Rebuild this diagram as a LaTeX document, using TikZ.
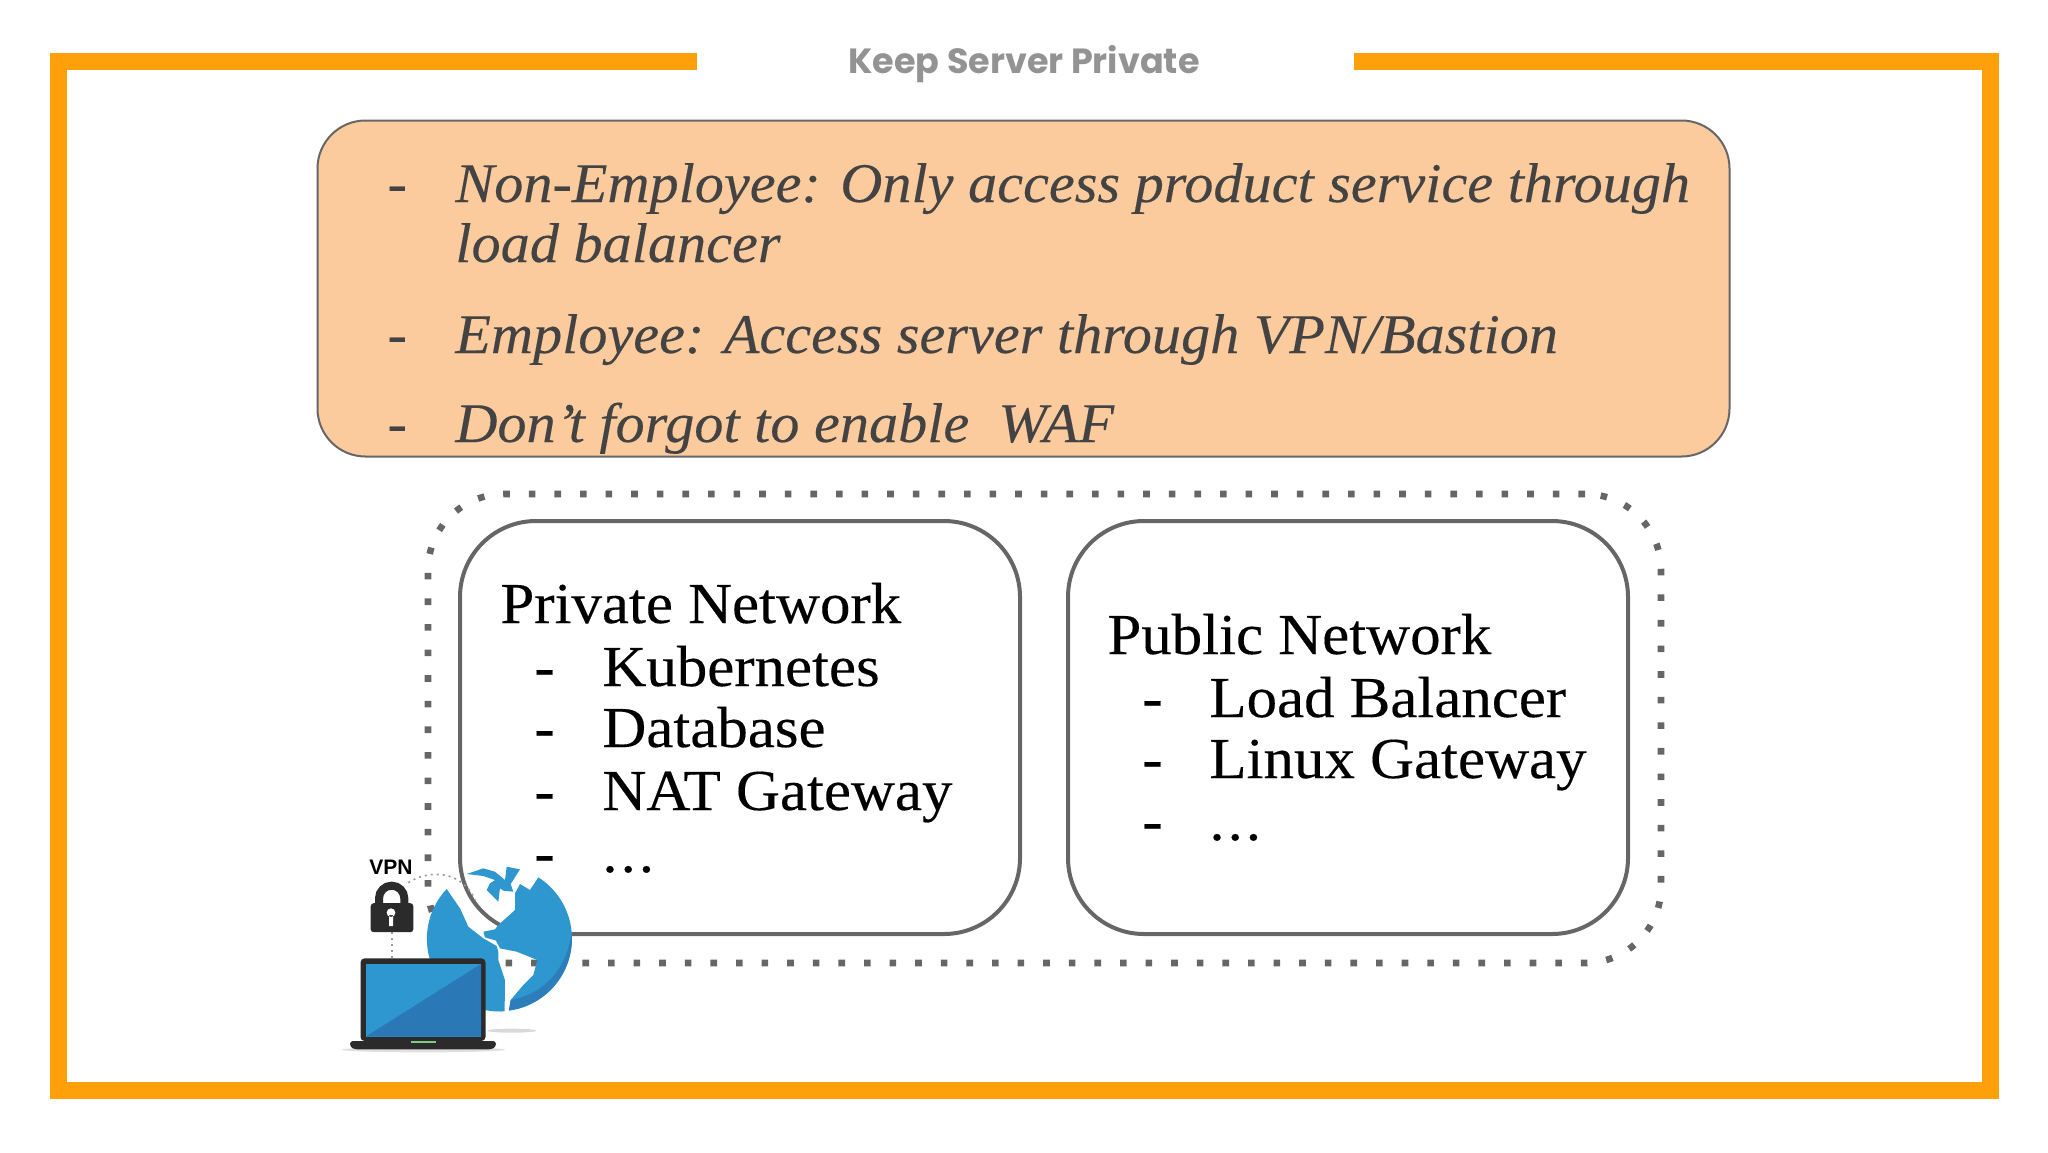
\documentclass[tikz,border=0pt]{standalone}
\usepackage{fontspec}
\setmainfont[FakeStretch=1.05,FakeBold=0.25]{Liberation Serif}
\newfontfamily\noteitfont[FakeStretch=1.04,FakeBold=0.2,UprightFont=*-Italic]{Liberation Serif}
\newfontfamily\titlefont{Poppins}
\newfontfamily\vpnfont{Liberation Sans}
\definecolor{frameorange}{HTML}{FFA00A}
\definecolor{notefill}{HTML}{FBCB9E}
\definecolor{linegray}{HTML}{666666}
\definecolor{notetext}{HTML}{434343}
\definecolor{globeblue}{HTML}{2F97CF}
\definecolor{globedark}{HTML}{2C7DB9}
\definecolor{screendark}{HTML}{2A78B6}
\definecolor{icondark}{HTML}{2B2B2B}
\newcommand{\threedots}{.\kern1.5pt.\kern1.5pt.}
\tikzset{
  note/.style={draw=linegray,line width=1pt,fill=notefill,rounded corners=24pt,minimum width=706pt,minimum height=168pt,outer sep=0},
  netbox/.style={draw=linegray,line width=2pt,rounded corners=38pt,minimum width=280pt,minimum height=206.5pt,outer sep=0},
  dotbox/.style={draw=linegray,line width=3.3pt,dash pattern=on 3.3pt off 9.5pt,rounded corners=38pt,minimum width=616.5pt,minimum height=234.5pt,outer sep=0},
  notetxt/.style={anchor=base west,inner sep=0,text=notetext,font=\noteitfont\fontsize{28}{28}\selectfont},
  notedash/.style={anchor=base west,inner sep=0,text=notetext,font=\fontsize{28}{28}\selectfont},
  nettxt/.style={anchor=base west,inner sep=0,font=\fontsize{29}{29}\selectfont},
  vpnlink/.style={draw=gray!80,line width=0.8pt,dash pattern=on 1pt off 2pt}
}
\begin{document}
\begin{tikzpicture}[x=0.5pt,y=0.5pt,yscale=-1]
\useasboundingbox (0,0) rectangle (2048,1152);

% frame
\coordinate (gapl) at (697,61);
\coordinate (gapr) at (1354,61);
\draw[frameorange,line width=8.5pt] (gapl) -- (58,61) -- (58,1090) -- (1990,1090) -- (1990,61) -- (gapr);
\node[inner sep=0,text=gray!85,font=\titlefont\bfseries\fontsize{17.5}{17.5}\selectfont] (title) at (1024,64) {Keep Server Private};

% note
\node[note] (notebox) at (1023.5,288.5) {};
\foreach \n/\y in {a/202,b/353,c/442}
  \node[notedash] (d\n) at (387,\y) {-};
\node[notetxt] (n1) at (455,202) {Non-Employee: Only access product service through};
\node[notetxt] (n2) at (455,262) {load balancer};
\node[notetxt] (n3) at (455,353) {Employee: Access server through VPN/Bastion};
\node[notetxt] (n4) at (455,442) {Don’t forgot to enable\ \ WAF};

% networks
\node[dotbox] (outer) at (1044.5,728.5) {};
\node[netbox] (private) at (740,727.5) {};
\node[netbox] (public) at (1348,727.5) {};

\node[nettxt] (pr) at (500,623) {Private Network};
\foreach \n/\y/\t in {a/686/Kubernetes,b/747/Database,c/810/NAT Gateway,d/872/\threedots}{
  \node[nettxt] (pr\n) at (602,\y) {\t};
  \node[nettxt] (prd\n) at (534,\y) {-};
}
\node[nettxt] (pu) at (1107,654) {Public Network};
\foreach \n/\y/\t in {a/717/Load Balancer,b/778/Linux Gateway,c/840/\threedots}{
  \node[nettxt] (pu\n) at (1209,\y) {\t};
  \node[nettxt] (pud\n) at (1142,\y) {-};
}

% vpn icon
\begin{scope}[shift={(320,820)},scale=1/3]
  \fill[gray!30] (575,632) ellipse (75 and 6);
  \fill[gray!25] (310,689) ellipse (245 and 8);
  % globe
  \fill[globeblue] (655,172) arc[start angle=-57.5,end angle=82.3,radius=218]
    -- (572,540) -- (610,495) -- (640,465) -- (652,420) -- (590,395) -- (540,385) -- (528,362)
    -- (495,352) -- (490,335) -- (525,328) -- (535,315) -- (585,270) -- (585,220) -- (600,192) -- (630,210) -- cycle;
  \fill[globeblue] (440,162) -- (490,145) -- (525,155) -- (555,180) -- (560,140) -- (600,148) -- (572,192)
    -- (580,215) -- (550,212) -- (540,205) -- (535,245) -- (500,210) -- (510,190) -- (525,180) -- (490,168) -- cycle;
  \fill[globeblue] (380,207) arc[start angle=-136.7,end angle=-274,radius=218]
    -- (555,480) -- (535,420) -- (535,395) -- (530,378) -- (490,355) -- (445,320) -- (420,265) -- cycle;
  \fill[globedark] (755,340) arc[start angle=-4,end angle=82.3,radius=218]
    -- (572,540) .. controls (680,520) and (740,440) .. (755,340);
  % lock and laptop
  \draw[icondark,line width=4pt] (177,255) -- (177,235) arc[start angle=180,end angle=360,radius=38] -- (253,255);
  \node[fill=icondark,rounded corners=1.5pt,minimum width=21.3pt,minimum height=14.5pt,inner sep=0,outer sep=0] (lock) at (216,293) {};
  \fill[white] (213,278) circle (13) (207,285) rectangle (219,318);
  \node[font=\vpnfont\bfseries\fontsize{10.5}{10.5}\selectfont,inner sep=0] (vpn) at (213,143) {VPN};
  \node[fill=icondark,rounded corners=2pt,minimum width=62.5pt,minimum height=41.3pt,inner sep=0,outer sep=0] (laptop) at (309,539) {};
  \node[fill=globeblue,minimum width=57.7pt,minimum height=36.3pt,inner sep=0,outer sep=0] (screen) at (310,541) {};
  \fill[screendark] (screen.south west) -- (screen.north east) -- (screen.south east) -- cycle;
  \fill[icondark,rounded corners=1.5pt] (90,663) -- (528,663) -- (528,680) -- (515,688) -- (103,688) -- (90,680) -- cycle;
  \fill[green!40!gray!70] (272,663) rectangle (347,670);
  \coordinate (globetop) at (465,240);
  \path[vpnlink,draw] (lock.south) -- (lock.south |- laptop.north);
  \path[vpnlink,draw] (265,188) .. controls (330,145) and (430,155) .. (globetop);
\end{scope}
\end{tikzpicture}
\end{document}
